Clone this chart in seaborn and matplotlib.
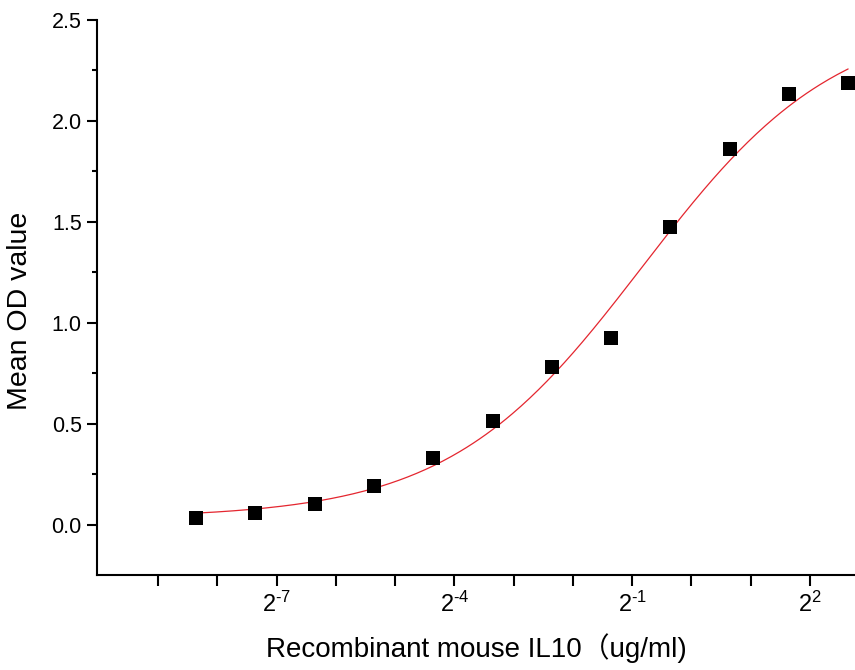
import matplotlib

matplotlib.use("Agg")
import matplotlib.pyplot as plt
import numpy as np
import pandas as pd
import seaborn as sns

# Data: 2-fold dilution series from 6.25 ug/ml
top_conc = 6.25
n_points = 12
mean_od = [0.033, 0.056, 0.104, 0.193, 0.330, 0.514,
           0.780, 0.922, 1.474, 1.863, 2.133, 2.189]
conc = [top_conc / 2 ** k for k in range(n_points)][::-1]

x_tick_exponents = [-7, -4, -1, 2]
y_ticks = [0.0, 0.5, 1.0, 1.5, 2.0, 2.5]
y_minor = [0.25, 0.75, 1.25, 1.75, 2.25]

df = pd.DataFrame({"conc": conc, "od": mean_od})


# Four parameter logistic fit (Origin "Logistic"): y = D + (A - D) / (1 + (x/C)^B)
# grid over C and B, A and D solved by linear least squares
def fit_4pl(x, y):
    best = None
    for logc in np.linspace(-4, 3, 281):
        for b in np.linspace(0.3, 3.0, 271):
            g = 1.0 / (1.0 + (x / 2.0 ** logc) ** b)
            m = np.column_stack([g, 1 - g])
            coef, *_ = np.linalg.lstsq(m, y, rcond=None)
            err = np.sum((m @ coef - y) ** 2)
            if best is None or err < best[0]:
                best = (err, coef[0], coef[1], 2.0 ** logc, b)
    return best[1:]


A, D, C, B = fit_4pl(df["conc"].values, df["od"].values)
x_fit = np.logspace(np.log2(min(conc)), np.log2(max(conc)), 300, base=2)
fit = pd.DataFrame({"conc": x_fit, "od": D + (A - D) / (1 + (x_fit / C) ** B)})

sns.set_style("ticks", {"axes.edgecolor": "black", "xtick.color": "black",
                        "ytick.color": "black", "text.color": "black",
                        "axes.labelcolor": "black"})
plt.rcParams["font.family"] = ["Liberation Sans", "Noto Sans CJK SC", "DejaVu Sans"]
plt.rcParams["mathtext.fontset"] = "custom"
plt.rcParams["mathtext.rm"] = "Liberation Sans"
plt.rcParams["mathtext.it"] = "Liberation Sans"

fig = plt.figure(figsize=(8.55, 6.7), dpi=100)
ax = fig.add_axes([97 / 855, 95 / 670, 1 - 97 / 855, 555 / 670])

sns.lineplot(data=fit, x="conc", y="od", ax=ax, color="#e4262f", linewidth=0.9)
sns.scatterplot(data=df, x="conc", y="od", ax=ax, marker="s", s=90,
                color="black", edgecolor="black", linewidth=0, zorder=3)

# x axis: log2, a tick per dilution step, label every third
exponents = list(range(-9, 3))
ax.set_xscale("log", base=2)
ax.set_xticks([2.0 ** e for e in exponents])
ax.set_xticklabels([(rf"$2^{{\text{{-}}{-e}}}$" if e < 0 else rf"$2^{{{e}}}$")
                    if e in x_tick_exponents else "" for e in exponents])
ax.xaxis.set_minor_locator(matplotlib.ticker.NullLocator())
ax.set_yticks(y_ticks)
ax.set_yticklabels([f"{v:.1f}" for v in y_ticks])
ax.set_yticks(y_minor, minor=True)
ax.set_xlim(2 ** -10.03, 2 ** 2.76)
ax.set_ylim(-0.25, 2.5)

ax.tick_params(axis="x", which="major", direction="out", length=8, width=1.5,
               labelsize=17, pad=4)
ax.tick_params(axis="y", which="major", direction="out", length=7, width=1.5,
               labelsize=15.5, pad=4)
ax.tick_params(axis="y", which="minor", direction="out", length=3.5, width=1.5)

sns.despine(ax=ax)
for side in ["left", "bottom"]:
    ax.spines[side].set_linewidth(1.5)

ax.set_xlabel("Recombinant mouse IL10（ug/ml)", fontsize=20, labelpad=12)
ax.set_ylabel("Mean OD value", fontsize=20.5)
ax.yaxis.set_label_coords(-0.084, 0.476)

fig.savefig("out.png", dpi=100)
